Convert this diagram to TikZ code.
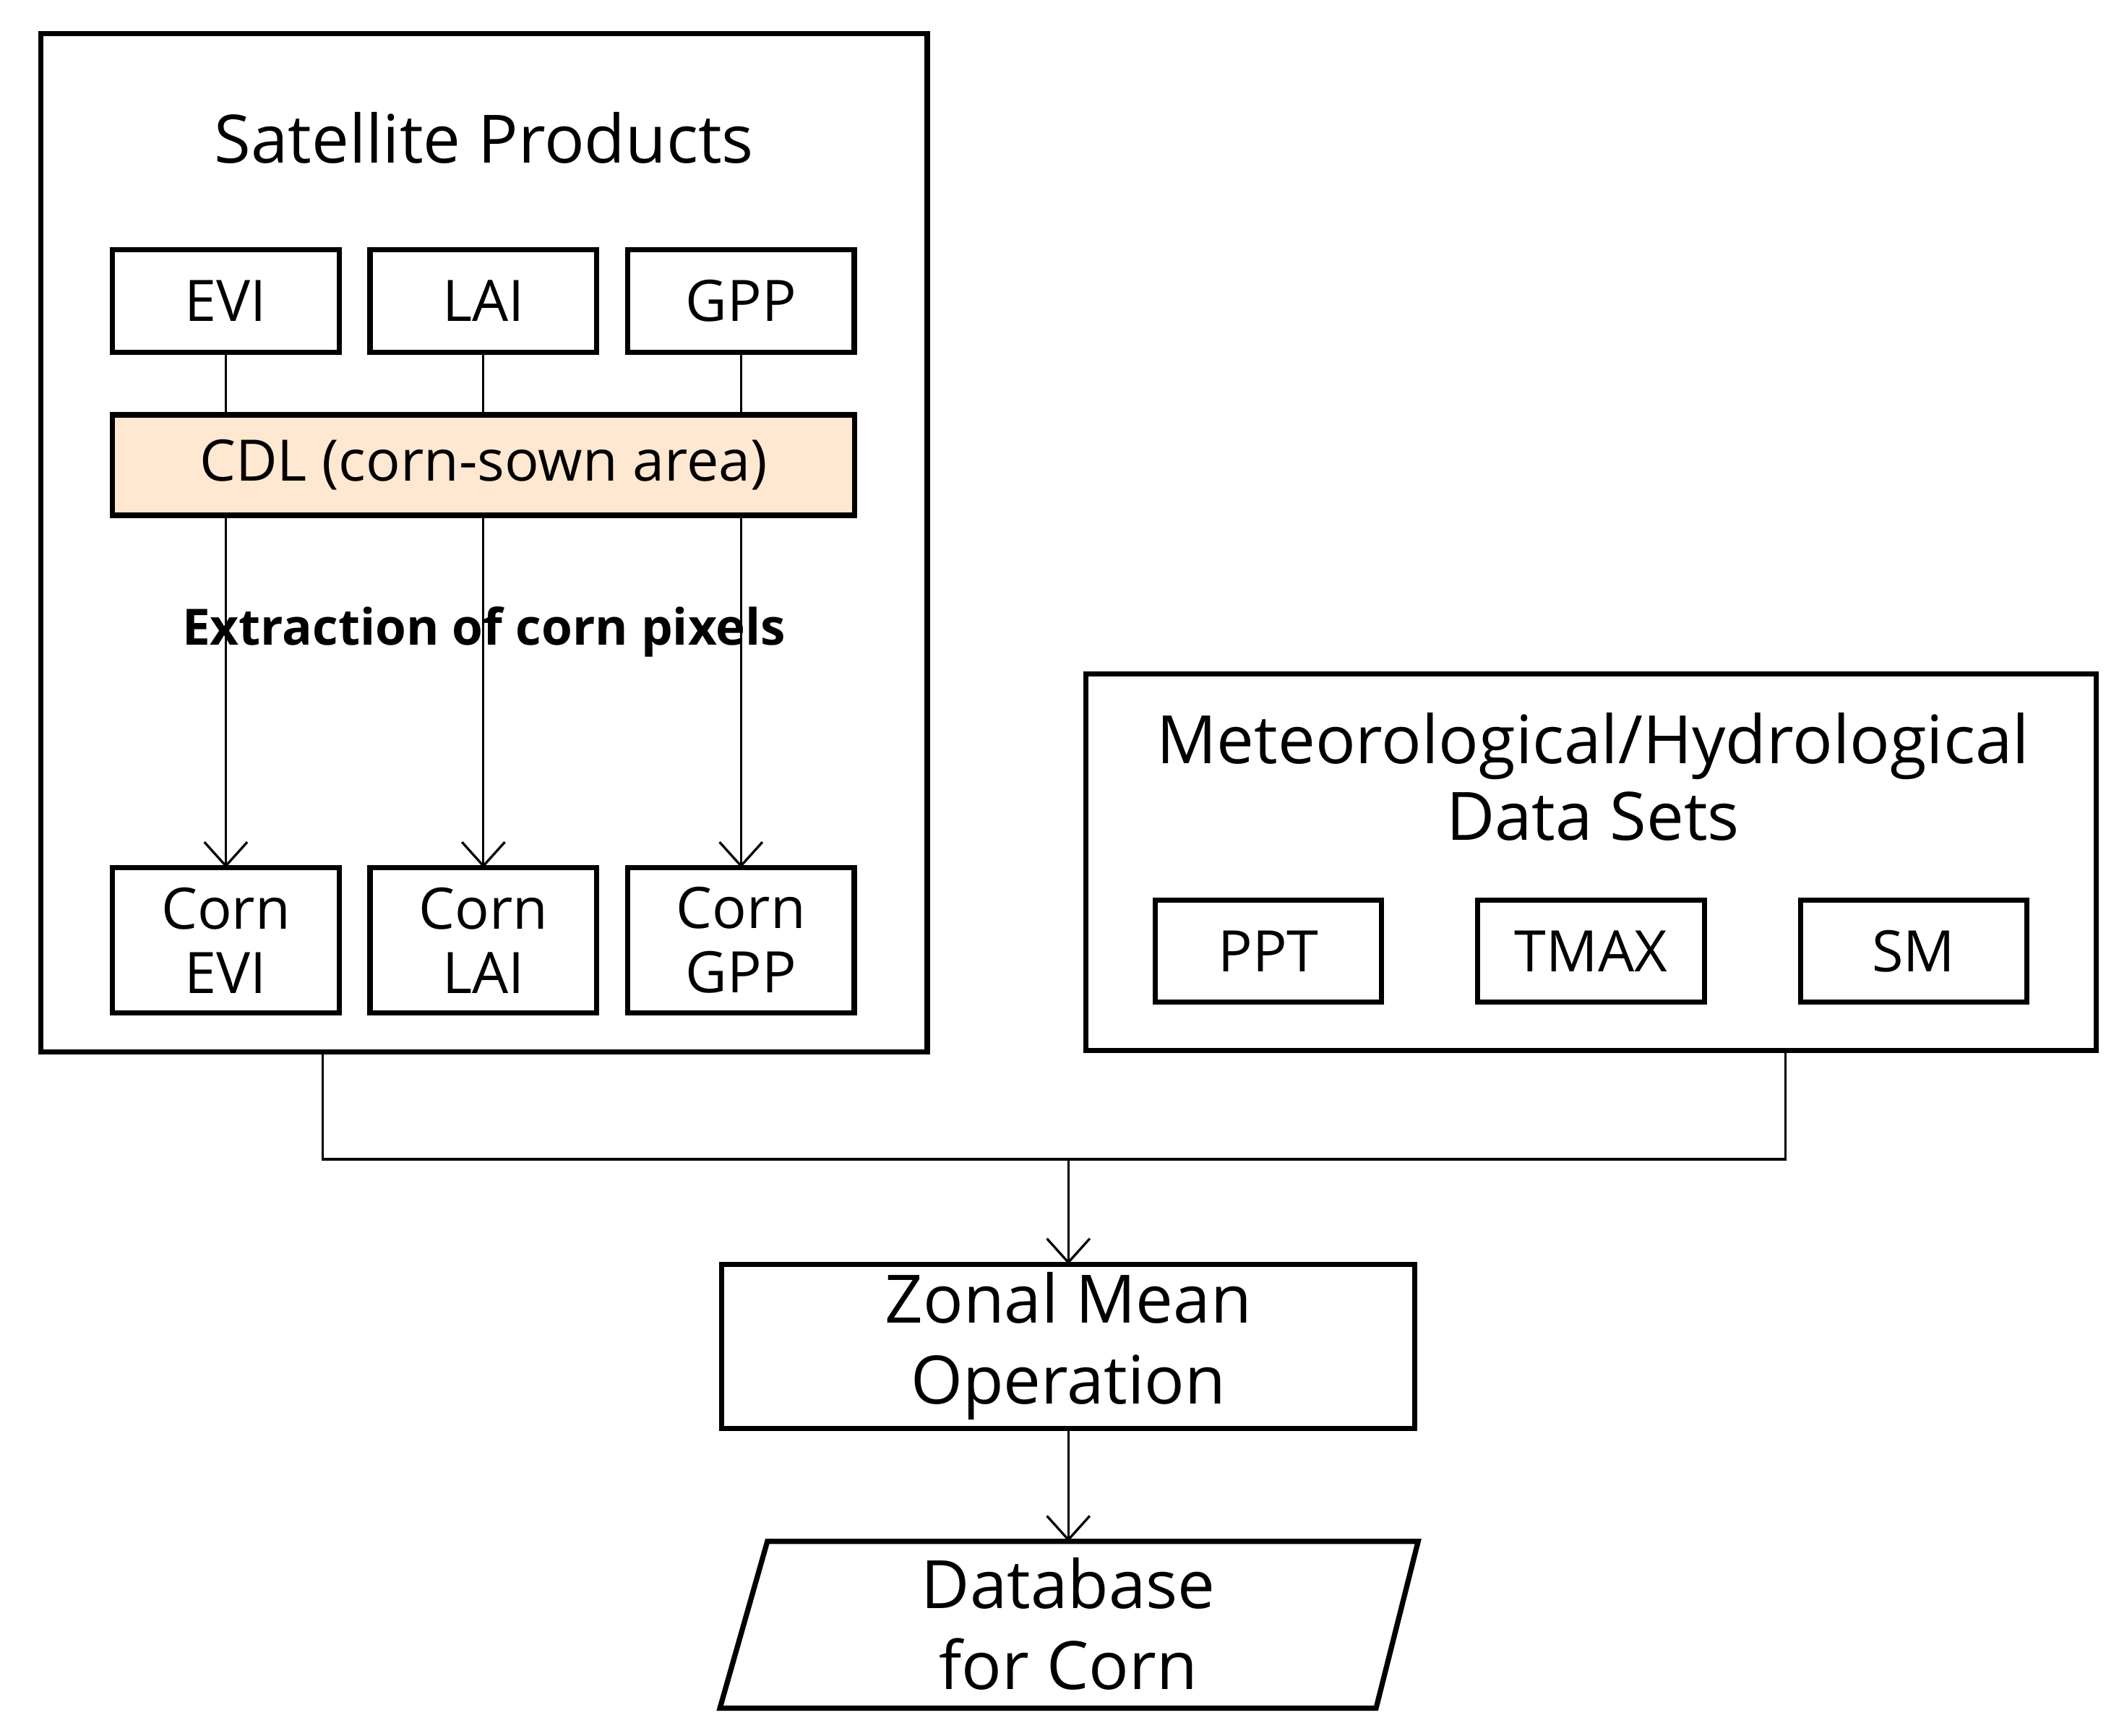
\documentclass[tikz,border=0pt]{standalone}
\usepackage{fontspec}
\setmainfont{Open Sans}
\usetikzlibrary{arrows.meta}
\begin{document}
\begin{tikzpicture}[x=0.01cm,y=-0.01cm,
  box/.style={draw,line width=1.1pt,inner sep=0pt,outer sep=0pt},
  lbl/.style={font=\fontsize{12}{14}\selectfont,align=center},
  conn/.style={line width=0.5pt},
  arr/.style={conn,-{Straight Barb[length=5pt,width=9pt]}}]
\useasboundingbox (0,0) rectangle (1563,1280);
% satellite
\draw[box] (30,25) rectangle (684,776);
\node[font=\fontsize{14}{16}\selectfont] (sattitle) at (357,102) {Satellite Products};
\foreach \n/\t/\x in {evi/EVI/81,lai/LAI/271,gpp/GPP/461}{
  \node[box,minimum width=1.67cm,minimum height=0.76cm,anchor=north west,lbl] (\n) at (\x+2,184) {\t};
  \node[box,minimum width=1.67cm,minimum height=1.07cm,anchor=north west,lbl,font=\fontsize{12}{13.5}\selectfont] (c\n) at (\x+2,640) {Corn\\\t};
}
\node[box,fill=orange!18!white,minimum width=5.47cm,minimum height=0.74cm,anchor=north west,lbl] (cdl) at (83,306) {CDL (corn-sown area)};
\foreach \n in {evi,lai,gpp}{
  \draw[conn] (\n.south) -- (\n.south |- cdl.north);
  \draw[arr] (\n.south |- cdl.south) -- (c\n.north);
}
\node[font=\fontsize{10.5}{12}\selectfont\bfseries] (extr) at (357,466) {Extraction of corn pixels};
% met
\draw[box] (801,497) rectangle (1546,775);
\node[lbl,font=\fontsize{14}{16}\selectfont] (mettitle) at (1175,573) {Meteorological/Hydrological\\Data Sets};
\foreach \n/\t/\x in {ppt/PPT/850,tmax/TMAX/1088,sm/SM/1326}
  \node[box,minimum width=1.67cm,minimum height=0.75cm,anchor=north west,lbl] (\n) at (\x+2,664) {\t};
\coordinate (s1) at (238,776);
\coordinate (m1) at (1317,775);
\coordinate (j) at (788,855);
\draw[conn] (s1) -- (238,855) -- (1317,855) -- (m1);
\node[box,minimum width=5.11cm,minimum height=1.21cm,lbl,font=\fontsize{14}{17}\selectfont] (zonal) at (788,993) {Zonal Mean\\Operation};
\draw[arr] (j) -- (zonal.north);
\draw[box] (566,1137) -- (1046,1137) -- (1015,1260) -- (531,1260) -- cycle;
\node[lbl,font=\fontsize{14}{17}\selectfont] (db) at (788,1198) {Database\\for Corn};
\coordinate (dbtop) at (788,1137);
\draw[arr] (zonal.south) -- (dbtop);
\end{tikzpicture}
\end{document}
